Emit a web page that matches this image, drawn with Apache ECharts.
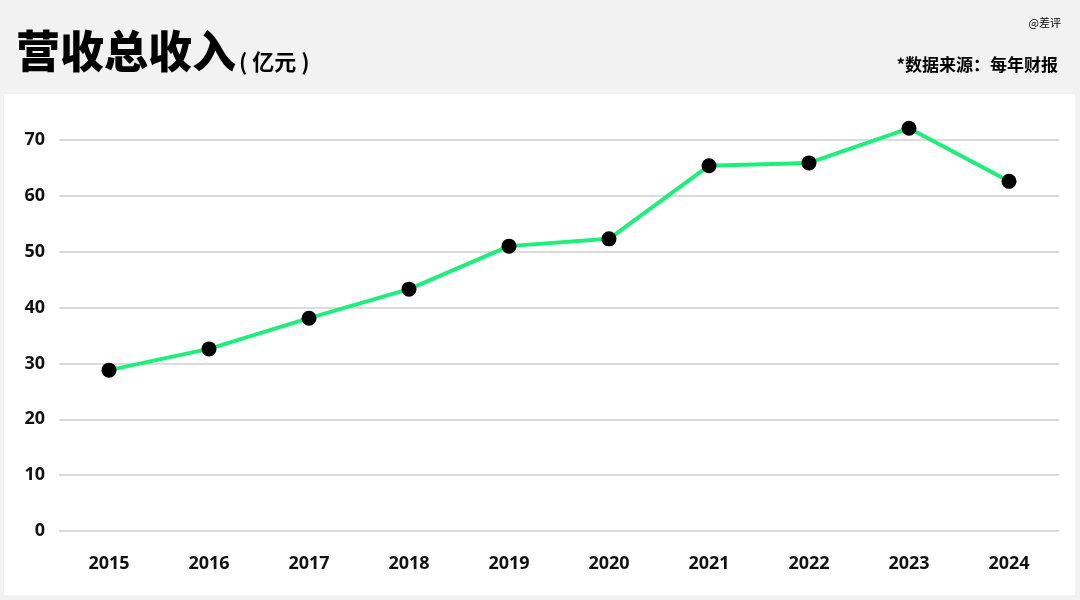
<!DOCTYPE html>
<html><head><meta charset="utf-8">
<script src="https://cdn.jsdelivr.net/npm/echarts@6/dist/echarts.min.js"></script>
<style>
html,body{margin:0;padding:0;background:#f2f2f2;width:1080px;height:600px;overflow:hidden;font-family:"Noto Sans","Noto Sans CJK SC",sans-serif;}
#panel{position:absolute;left:4px;top:94px;width:1071px;height:501px;background:#fff;}
#chart{position:absolute;left:0;top:0;width:1080px;height:600px;}
</style></head>
<body>
<div id="panel"></div>
<div id="chart"></div>
<script>
const years = ['2015','2016','2017','2018','2019','2020','2021','2022','2023','2024'];
const revenue = [28.8, 32.6, 38.1, 43.3, 51.0, 52.3, 65.4, 65.9, 72.1, 62.6];
const titleText = '营收总收入';
const unitText = '( 亿元 )';
const sourceText = '*数据来源：每年财报';
const watermark = '@差评';

const chart = echarts.init(document.getElementById('chart'), null, {renderer:'canvas'});
chart.setOption({
  backgroundColor: 'transparent',
  animation: false,
  title: [
    {text: titleText, left: 11, top: 24, textStyle:{fontSize:44, fontWeight:'900', color:'#000', fontFamily:'Noto Sans CJK SC'}},
    {text: unitText, left: 234, top: 46, textStyle:{fontSize:22, fontWeight:'bold', color:'#000', fontFamily:'Noto Sans CJK SC'}},
    {text: sourceText, right: 17, top: 51, textStyle:{fontSize:17, fontWeight:'bold', color:'#000', fontFamily:'Noto Sans CJK SC'}},
    {text: watermark, right: 14, top: 12, textStyle:{fontSize:11, fontWeight:'normal', color:'#000', fontFamily:'Noto Sans CJK SC'}}
  ],
  grid: {left: 59, right: 21, top: 140, bottom: 69, containLabel: false},
  xAxis: {
    type: 'category', data: years, boundaryGap: true,
    axisLine:{show:false}, axisTick:{show:false},
    axisLabel:{color:'#111', fontSize:18, fontWeight:'bold', margin:24, fontFamily:'Noto Sans'}
  },
  yAxis: {
    type: 'value', min: 0, max: 70, interval: 10,
    axisLine:{show:false}, axisTick:{show:false},
    axisLabel:{color:'#111', fontSize:18, fontWeight:'bold', margin:14, fontFamily:'Noto Sans'},
    splitLine:{lineStyle:{color:'#d0d0d0', width:1.5}}
  },
  series: [{
    type: 'line', data: revenue, clip: false,
    symbol: 'circle', symbolSize: 15,
    lineStyle:{color:'#1df07a', width:4},
    itemStyle:{color:'#000', borderWidth:0}
  }]
});
</script>
</body></html>
